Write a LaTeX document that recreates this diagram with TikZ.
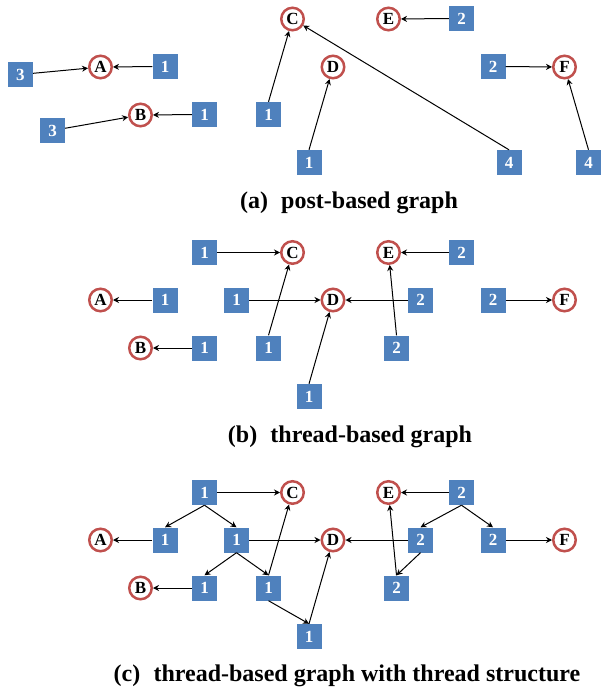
\documentclass[tikz,border=0pt]{standalone}
\usepackage{fontspec}
\setmainfont{Liberation Serif}
\usetikzlibrary{arrows.meta}
\definecolor{postblue}{RGB}{79,129,189}
\definecolor{userred}{RGB}{192,80,77}

\begin{document}
\begin{tikzpicture}[x=1pt,y=-1pt]
  \tikzstyle{user}=[circle, draw=userred, line width=2.5pt, fill=white, minimum size=22.5pt, inner sep=0pt, font=\fontsize{17}{17}\selectfont\bfseries]
  \tikzstyle{post}=[rectangle, fill=postblue, text=white, minimum size=25pt, inner sep=0pt, font=\fontsize{17}{17}\selectfont\bfseries]
  \tikzstyle{link}=[-{Stealth[length=6pt,width=6pt]}, line width=1pt]
  \tikzstyle{caption}=[font=\fontsize{24}{28}\selectfont\bfseries]
  \useasboundingbox (0,0) rectangle (600,692);

  % (a)
  \node[user] (Aa) at (100.5,67) {A};
  \node[user] (Ba) at (140.5,115) {B};
  \node[user] (Ca) at (292.5,19) {C};
  \node[user] (Da) at (333,67) {D};
  \node[user] (Ea) at (388.5,19) {E};
  \node[user] (Fa) at (564.5,67) {F};
  \node[post] (a1) at (20.5,74.5) {3};
  \node[post] (a2) at (165,66.5) {1};
  \node[post] (a3) at (52.5,130.5) {3};
  \node[post] (a4) at (204.5,114.5) {1};
  \node[post] (a5) at (268.5,114.5) {1};
  \node[post] (a6) at (309,162.5) {1};
  \node[post] (a7) at (509,162.5) {4};
  \node[post] (a8) at (461.5,18.5) {2};
  \node[post] (a9) at (493,66.5) {2};
  \node[post] (a10) at (588.5,162.5) {4};
  \draw[link] (a1) -- (Aa);
  \draw[link] (a2) -- (Aa);
  \draw[link] (a3) -- (Ba);
  \draw[link] (a4) -- (Ba);
  \draw[link] (a5.north) -- (Ca);
  \draw[link] (a6.north) -- (Da);
  \draw[link] (a7.north) -- (Ca);
  \draw[link] (a8) -- (Ea);
  \draw[link] (a9) -- (Fa);
  \draw[link] (a10.north) -- (Fa);
  \node[caption] (capa) at (349,203) {(a)\hspace{0.55em}post-based graph};

  % (b)
  \node[user] (Ab) at (100.5,300) {A};
  \node[user] (Bb) at (140.5,348) {B};
  \node[user] (Cb) at (292.5,252.5) {C};
  \node[user] (Db) at (333,300) {D};
  \node[user] (Eb) at (388.5,252.5) {E};
  \node[user] (Fb) at (564.5,300) {F};
  \node[post] (b1) at (204.5,252.5) {1};
  \node[post] (b2) at (165,300) {1};
  \node[post] (b3) at (236.5,300) {1};
  \node[post] (b4) at (204.5,348) {1};
  \node[post] (b5) at (268.5,348) {1};
  \node[post] (b6) at (309,396.5) {1};
  \node[post] (b7) at (461.5,252.5) {2};
  \node[post] (b8) at (420.5,300) {2};
  \node[post] (b9) at (396.5,348) {2};
  \node[post] (b10) at (493,300) {2};
  \draw[link] (b1) -- (Cb);
  \draw[link] (b2) -- (Ab);
  \draw[link] (b3) -- (Db);
  \draw[link] (b4) -- (Bb);
  \draw[link] (b5.north) -- (Cb);
  \draw[link] (b6.north) -- (Db);
  \draw[link] (b7) -- (Eb);
  \draw[link] (b8) -- (Db);
  \draw[link] (b9.north) -- (Eb);
  \draw[link] (b10) -- (Fb);
  \node[caption] (capb) at (350,437) {(b)\hspace{0.55em}thread-based graph};

  % (c)
  \node[user] (Ac) at (100.5,540) {A};
  \node[user] (Bc) at (140.5,588) {B};
  \node[user] (Cc) at (292.5,492.5) {C};
  \node[user] (Dc) at (333,540) {D};
  \node[user] (Ec) at (388.5,492.5) {E};
  \node[user] (Fc) at (564.5,540) {F};
  \node[post] (c1) at (204.5,492.5) {1};
  \node[post] (c2) at (165,540) {1};
  \node[post] (c3) at (236.5,540) {1};
  \node[post] (c4) at (204.5,588) {1};
  \node[post] (c5) at (268.5,588) {1};
  \node[post] (c6) at (309,636.5) {1};
  \node[post] (c7) at (461.5,492.5) {2};
  \node[post] (c8) at (420.5,540) {2};
  \node[post] (c9) at (396.5,588) {2};
  \node[post] (c10) at (493,540) {2};
  \draw[link] (c1) -- (Cc);
  \draw[link] (c2) -- (Ac);
  \draw[link] (c3) -- (Dc);
  \draw[link] (c4) -- (Bc);
  \draw[link] (c5.north) -- (Cc);
  \draw[link] (c6.north) -- (Dc);
  \draw[link] (c7) -- (Ec);
  \draw[link] (c8) -- (Dc);
  \draw[link] (c9.north) -- (Ec);
  \draw[link] (c10) -- (Fc);
  \draw[link] (c1.south) -- (c2.north);
  \draw[link] (c1.south) -- (c3.north);
  \draw[link] (c3.south) -- (c4.north);
  \draw[link] (c3.south) -- (c5.north);
  \draw[link] (c5.south) -- (c6.north);
  \draw[link] (c7.south) -- (c8.north);
  \draw[link] (c7.south) -- (c10.north);
  \draw[link] (c8.south) -- (c9.north);
  \node[caption] (capc) at (347,676) {(c)\hspace{0.55em}thread-based graph with thread structure};
\end{tikzpicture}
\end{document}
